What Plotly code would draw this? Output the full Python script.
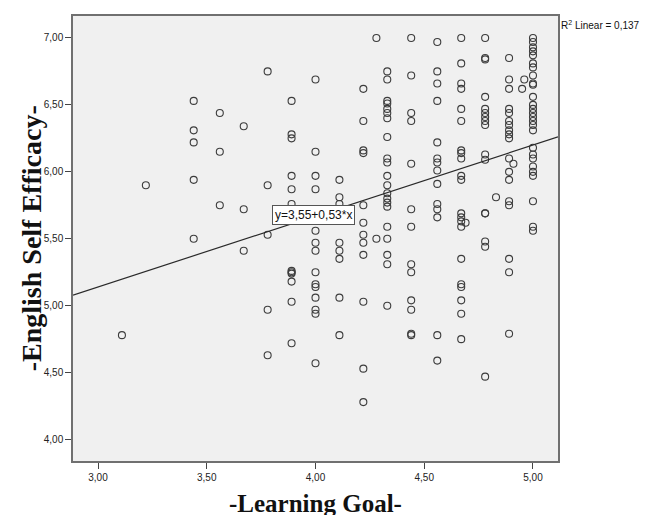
import plotly.graph_objects as go

# ---- data (Learning Goal vs English Self Efficacy) ----
learning_goal = (
    [3.11] + [3.22] +
    [3.44] * 5 + [3.56] * 3 + [3.67] * 3 + [3.78] * 5 +
    [3.89] * 12 + [4.00] * 14 + [4.11] * 8 + [4.22] * 12 +
    [4.33] * 21 + [4.44] * 13 + [4.56] * 14 + [4.67] * 21 +
    [4.78] * 16 + [4.89] * 18 + [5.00] * 27 +
    [4.28, 4.28, 4.69, 4.91, 4.83, 4.96, 4.95]
)
self_efficacy = (
    [4.78] + [5.90] +
    [6.53, 6.31, 6.22, 5.94, 5.50] +
    [6.44, 6.15, 5.75] +
    [6.34, 5.72, 5.41] +
    [6.75, 5.90, 5.53, 4.97, 4.63] +
    [6.53, 6.28, 6.25, 5.97, 5.87, 5.76, 5.26, 5.25, 5.24, 5.18, 5.03, 4.72] +
    [6.69, 6.15, 5.97, 5.87, 5.56, 5.47, 5.41, 5.25, 5.16, 5.14, 5.06, 4.97, 4.94, 4.57] +
    [5.94, 5.81, 5.76, 5.47, 5.41, 5.35, 5.06, 4.78] +
    [6.62, 6.38, 6.16, 6.14, 5.75, 5.62, 5.53, 5.47, 5.38, 5.03, 4.53, 4.28] +
    [6.75, 6.69, 6.53, 6.51, 6.47, 6.44, 6.40, 6.26, 6.10, 6.07, 5.97, 5.90,
     5.84, 5.80, 5.77, 5.74, 5.59, 5.50, 5.38, 5.31, 5.00] +
    [7.00, 6.72, 6.44, 6.38, 6.06, 5.72, 5.59, 5.31, 5.25, 5.04, 4.97, 4.79, 4.78] +
    [6.97, 6.75, 6.66, 6.53, 6.22, 6.10, 6.07, 6.01, 5.91, 5.76, 5.72, 5.66, 4.78, 4.59] +
    [7.00, 6.81, 6.66, 6.62, 6.47, 6.38, 6.16, 6.14, 6.10, 5.97, 5.94, 5.69,
     5.66, 5.63, 5.59, 5.35, 5.16, 5.14, 5.04, 4.94, 4.75] +
    [7.00, 6.85, 6.84, 6.56, 6.47, 6.44, 6.41, 6.38, 6.35, 6.13, 6.09, 5.69,
     5.69, 5.48, 5.44, 4.47] +
    [6.85, 6.69, 6.62, 6.47, 6.44, 6.38, 6.35, 6.31, 6.28, 6.25, 6.10, 6.00,
     5.94, 5.78, 5.75, 5.35, 5.25, 4.79] +
    [7.00, 6.97, 6.93, 6.90, 6.87, 6.81, 6.78, 6.72, 6.66, 6.65, 6.56, 6.50,
     6.47, 6.44, 6.41, 6.38, 6.35, 6.31, 6.18, 6.13, 6.10, 6.04, 6.00, 5.97,
     5.78, 5.59, 5.56] +
    [7.00, 5.50, 5.62, 6.06, 5.81, 6.69, 6.62]
)

x_ticks = [3.0, 3.5, 4.0, 4.5, 5.0]
y_ticks = [4.0, 4.5, 5.0, 5.5, 6.0, 6.5, 7.0]
x_range = [2.885, 5.115]
y_range = [3.84, 7.164]

fit_intercept = 3.55
fit_slope = 0.53
r_squared = 0.137

fit_x = x_range
fit_y = [fit_intercept + fit_slope * v for v in fit_x]

fig = go.Figure()
fig.add_trace(go.Scatter(
    x=learning_goal, y=self_efficacy, mode="markers",
    marker=dict(symbol="circle-open", size=7, color="#3c3c3c",
                line=dict(width=1.1)),
    showlegend=False, hoverinfo="x+y",
))
fig.add_trace(go.Scatter(
    x=fit_x, y=fit_y, mode="lines",
    line=dict(color="#2a2a2a", width=1.2),
    showlegend=False, hoverinfo="skip",
))

tickfont = dict(family="Liberation Sans, Arial, sans-serif", size=10, color="#222")
axis_common = dict(
    showgrid=False, zeroline=False, showline=True, mirror=True,
    linecolor="#707070", linewidth=1.5, ticks="outside", ticklen=6,
    tickcolor="#444", tickwidth=1, tickformat=".2f", tickfont=tickfont,
)

# the page body has an 8px margin, so the figure is sized/offset to compensate
fig.update_layout(
    width=640, height=507,
    margin=dict(l=65, r=90, t=6, b=54),
    paper_bgcolor="white", plot_bgcolor="#f0f0f0",
    separators=",.",
    xaxis=dict(range=x_range, tickvals=x_ticks, **axis_common),
    yaxis=dict(range=y_range, tickvals=y_ticks, **axis_common),
    annotations=[
        dict(text="y=3,55+0,53*x", x=3.80, y=5.676, xref="x", yref="y",
             xanchor="left", yanchor="middle", showarrow=False,
             font=dict(family="Liberation Sans, Arial, sans-serif", size=12, color="#111"),
             bgcolor="white", bordercolor="#555", borderwidth=1, borderpad=2),
        dict(text="R<sup>2</sup> Linear = 0,137", x=1.0, y=0.98,
             xref="paper", yref="paper", xanchor="left", yanchor="middle",
             xshift=1, showarrow=False,
             font=dict(family="Liberation Sans, Arial, sans-serif", size=10, color="#111")),
        dict(text="<b>-English Self Efficacy-</b>", x=-0.085, y=0.5,
             xref="paper", yref="paper", xanchor="center", yanchor="middle",
             textangle=-90, showarrow=False,
             font=dict(family="Liberation Serif, Times New Roman, serif", size=28, color="#111")),
        dict(text="<b>-Learning Goal-</b>", x=0.5, y=-0.061,
             xref="paper", yref="paper", xanchor="center", yanchor="top",
             showarrow=False,
             font=dict(family="Liberation Serif, Times New Roman, serif", size=25, color="#111")),
    ],
)

fig.write_html("out.html")
